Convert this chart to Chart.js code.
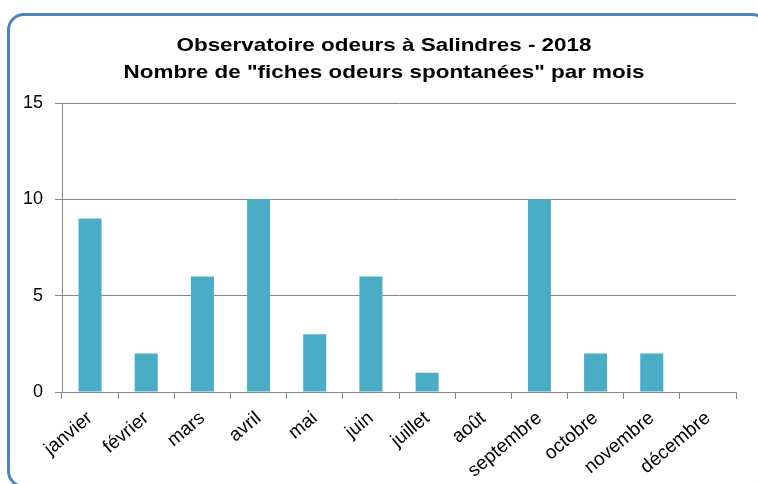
<!DOCTYPE html>
<html>
<head>
<meta charset="utf-8">
<script src="https://cdn.jsdelivr.net/npm/chart.js@4/dist/chart.umd.min.js"></script>
<style>
  html, body { margin: 0; padding: 0; background: #fff; }
  #wrap { position: relative; width: 758px; height: 484px; overflow: hidden; }
  #frame {
    position: absolute; left: 7px; top: 13px; width: 756px; height: 469px;
    border: 3px solid #4f81bd; border-radius: 17px; pointer-events: none;
  }
  canvas { position: absolute; left: 0; top: 0; }
</style>
</head>
<body>
<div id="wrap">
  <canvas id="chart" width="758" height="484"></canvas>
  <div id="frame"></div>
</div>
<script>
var months = ['janvier', 'février', 'mars', 'avril', 'mai', 'juin', 'juillet', 'août', 'septembre', 'octobre', 'novembre', 'décembre'];
var fiches = [9, 2, 6, 10, 3, 6, 1, 0, 10, 2, 2, 0];
var yTicks = [0, 5, 10, 15];
var titleLines = ['Observatoire odeurs à Salindres - 2018', 'Nombre de "fiches odeurs spontanées" par mois'];

var gridColor = '#868686';

// the title in the original is a wide bold face, so draw it stretched a bit
var wideTitle = {
    id: 'wideTitle',
    afterDraw: function(chart) {
        var ctx = chart.ctx
        ctx.save()
        ctx.fillStyle = '#000'
        ctx.font = 'bold 19px "Liberation Sans"'
        ctx.textAlign = 'center'
        ctx.textBaseline = 'alphabetic'
        ctx.translate(384, 0)
        ctx.scale(1.18, 1)
        ctx.fillText(titleLines[0], 0, 51)
        ctx.fillText(titleLines[1], 0, 78)
        ctx.restore()
    }
}

new Chart(document.getElementById('chart'), {
    type: 'bar',
    data: {
        labels: months,
        datasets: [{
            data: fiches,
            backgroundColor: '#4bacc6',
            borderWidth: 0,
            categoryPercentage: 1,
            barPercentage: 0.41
        }]
    },
    options: {
        responsive: false,
        animation: false,
        layout: { padding: { left: 0, right: 22, top: 103, bottom: 0 } },
        plugins: {
            legend: { display: false },
            tooltip: { enabled: false },
            title: { display: false }
        },
        scales: {
            x: {
                offset: true,
                grid: { display: true, drawOnChartArea: false, color: gridColor, tickLength: 7, offset: true },
                border: { color: gridColor, width: 1 },
                ticks: {
                    color: '#000',
                    font: { family: 'Liberation Sans', size: 19 },
                    minRotation: 40, maxRotation: 40,
                    autoSkip: false,
                    padding: 8
                },
                afterFit: function(scale) { scale.height = 92; }
            },
            y: {
                min: 0, max: 15,
                afterBuildTicks: function(scale) { scale.ticks = yTicks.map(function(v) { return { value: v }; }); },
                grid: { color: gridColor, tickLength: 7 },
                border: { color: gridColor, width: 1 },
                ticks: {
                    color: '#000',
                    font: { family: 'Liberation Sans', size: 18 },
                    padding: 12
                },
                afterFit: function(scale) { scale.width = 62; }
            }
        }
    },
    plugins: [wideTitle]
});
</script>
</body>
</html>
